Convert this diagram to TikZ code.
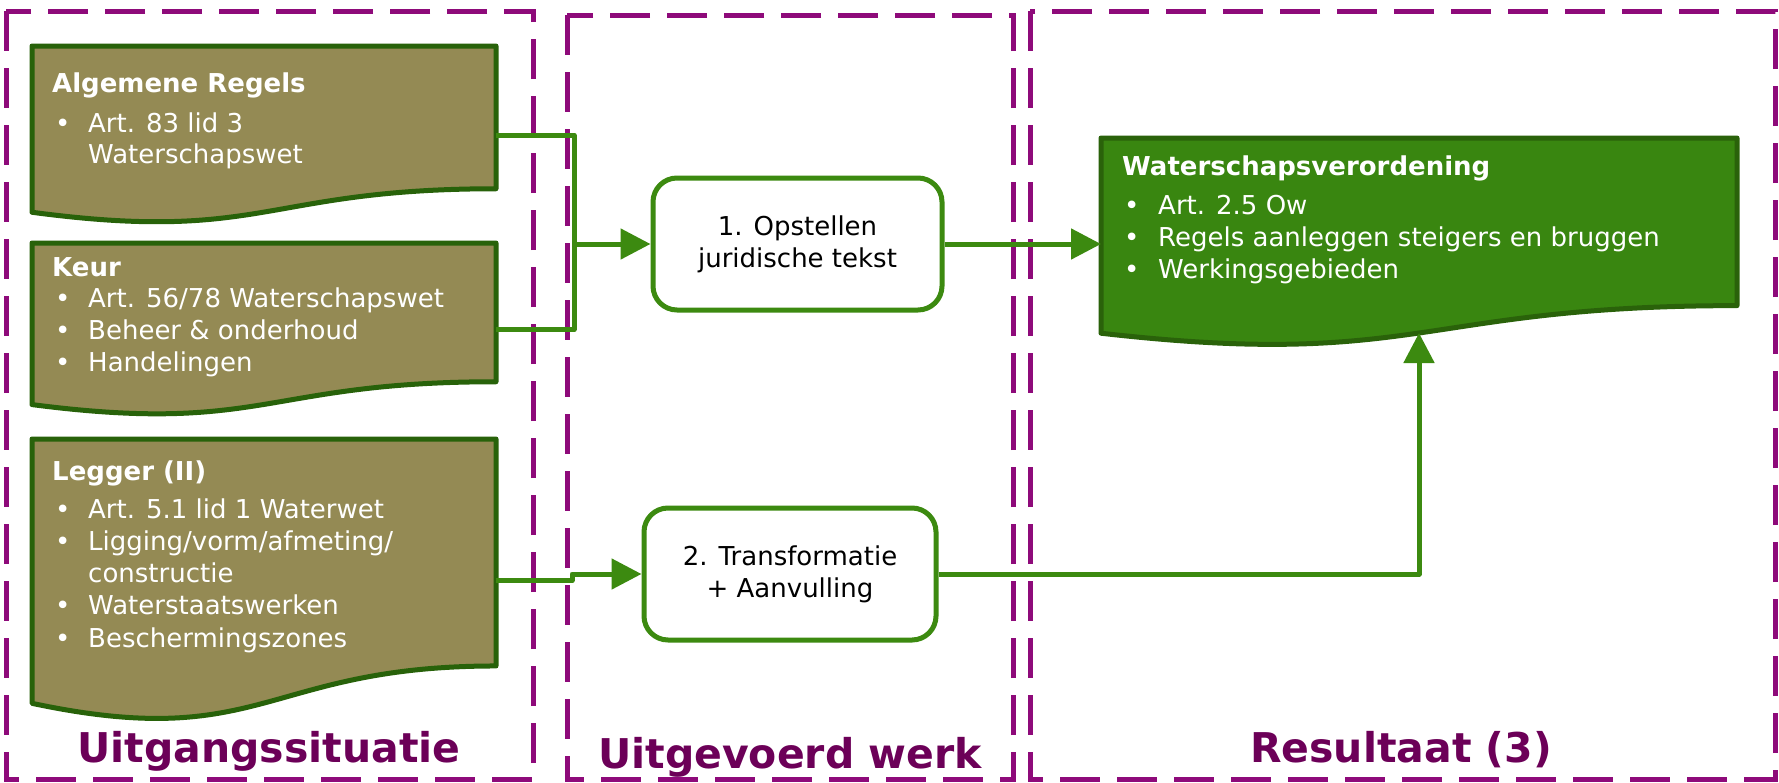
\documentclass[tikz,border=0pt]{standalone}
\usepackage{fontspec}
\setmainfont{DejaVu Sans}
\usetikzlibrary{arrows.meta}
\definecolor{framepurple}{RGB}{142,10,122}
\definecolor{labelpurple}{RGB}{108,0,88}
\definecolor{olive}{RGB}{148,138,84}
\definecolor{docborder}{RGB}{40,98,10}
\definecolor{procgreen}{RGB}{60,138,16}
\definecolor{resfill}{RGB}{57,134,16}
\definecolor{resborder}{RGB}{42,98,10}
\tikzset{
  frame/.style={draw=framepurple, line width=5pt, dash pattern=on 40pt off 17pt},
  doctxt/.style={font=\fontsize{26}{31}\selectfont, text=white, inner sep=0pt, anchor=base west},
  doctitle/.style={doctxt, font=\fontsize{26}{31}\selectfont\bfseries},
  procbox/.style={draw=procgreen, line width=5pt, fill=white, rounded corners=24pt, minimum height=132pt, align=center, font=\fontsize{26}{32}\selectfont, text=black, inner sep=0pt},
  conn/.style={draw=procgreen, line width=5pt},
  arr/.style={conn, -{Triangle[length=30pt,width=30pt]}},
  lbl/.style={font=\fontsize{41}{48}\selectfont\bfseries, text=labelpurple, anchor=base, inner sep=0pt},
  docshape/.style={line width=5pt, line join=round},
}
% name, x, y, w, h, fill, draw
\newcommand\mydoc[7]{%
  \path[docshape, fill=#6, draw=#7] (#2,#3) -- (#2+#4,#3) -- (#2+#4,#3+0.802*#5)
    .. controls (#2+0.5*#4,#3+0.802*#5) and (#2+0.5*#4,#3+1.1075*#5) .. (#2,#3+0.934*#5) -- cycle;
  \node[inner sep=0pt, minimum width=#4pt, minimum height=#5pt, anchor=north west] (#1) at (#2,#3) {};
  \coordinate (#1-wave) at (#2+0.5*#4,#3+0.933*#5);
}
\begin{document}
\begin{tikzpicture}[x=1pt,y=-1pt]
\useasboundingbox (0,0) rectangle (1779,782);
\fill[white] (0,0) rectangle (1779,782);

% frames
\draw[frame] (6,11) rectangle (533,779);
\draw[frame] (567,15) rectangle (1013,779);
\draw[frame] (1030,11) rectangle (1775,779);

% documents
\mydoc{doc1}{32}{46}{464}{178}{olive}{docborder}
\mydoc{doc2}{32}{243}{464}{173}{olive}{docborder}
\mydoc{doc3}{32}{439}{464}{283}{olive}{docborder}
\mydoc{doc4}{1101}{138}{636}{209}{resfill}{resborder}

% doc1 text
\node[doctitle] (t1) at (52,92) {Algemene Regels};
\node[doctxt] (t1b1) at (55,132) {•};
\node[doctxt] (t1l1) at (88,132) {Art. 83 lid 3};
\node[doctxt] (t1l2) at (88,163) {Waterschapswet};

% doc2 text
\node[doctitle] (t2) at (52,276) {Keur};
\node[doctxt] (t2b1) at (55,307) {•};
\node[doctxt] (t2l1) at (88,307) {Art. 56/78 Waterschapswet};
\node[doctxt] (t2b2) at (55,339) {•};
\node[doctxt] (t2l2) at (88,339) {Beheer \& onderhoud};
\node[doctxt] (t2b3) at (55,371) {•};
\node[doctxt] (t2l3) at (88,371) {Handelingen};

% doc3 text
\node[doctitle] (t3) at (52,480) {Legger (II)};
\node[doctxt] (t3b1) at (55,518) {•};
\node[doctxt] (t3l1) at (88,518) {Art. 5.1 lid 1 Waterwet};
\node[doctxt] (t3b2) at (55,550) {•};
\node[doctxt] (t3l2) at (88,550) {Ligging/vorm/afmeting/};
\node[doctxt] (t3l3) at (88,582) {constructie};
\node[doctxt] (t3b4) at (55,614) {•};
\node[doctxt] (t3l4) at (88,614) {Waterstaatswerken};
\node[doctxt] (t3b5) at (55,647) {•};
\node[doctxt] (t3l5) at (88,647) {Beschermingszones};

% doc4 text
\node[doctitle] (t4) at (1122,175) {Waterschapsverordening};
\node[doctxt] (t4b1) at (1124,214) {•};
\node[doctxt] (t4l1) at (1158,214) {Art. 2.5 Ow};
\node[doctxt] (t4b2) at (1124,246) {•};
\node[doctxt] (t4l2) at (1158,246) {Regels aanleggen steigers en bruggen};
\node[doctxt] (t4b3) at (1124,278) {•};
\node[doctxt] (t4l3) at (1158,278) {Werkingsgebieden};

% process boxes
\node[procbox, minimum width=289pt] (pA) at (797.5,244) {1. Opstellen\\juridische tekst};
\node[procbox, minimum width=292pt] (pB) at (790,574) {2. Transformatie\\+ Aanvulling};

% connectors
\coordinate (j1) at (574,244);
\coordinate (j2) at (572,574);
\draw[conn, line join=round] (doc1.east) -| (j1) |- (doc2.east);
\draw[arr] (j1) -- (pA.west);
\draw[arr, line join=round] (doc3.east) -| (j2) -- (pB.west);
\draw[arr] (pA.east) -- (pA.east -| doc4.west);
\draw[arr, line join=round] (pB.east) -| (doc4-wave);

% labels
\node[lbl] (L1) at (269,762) {Uitgangssituatie};
\node[lbl] (L2) at (790,768) {Uitgevoerd werk};
\node[lbl] (L3) at (1401,762) {Resultaat (3)};
\end{tikzpicture}
\end{document}
